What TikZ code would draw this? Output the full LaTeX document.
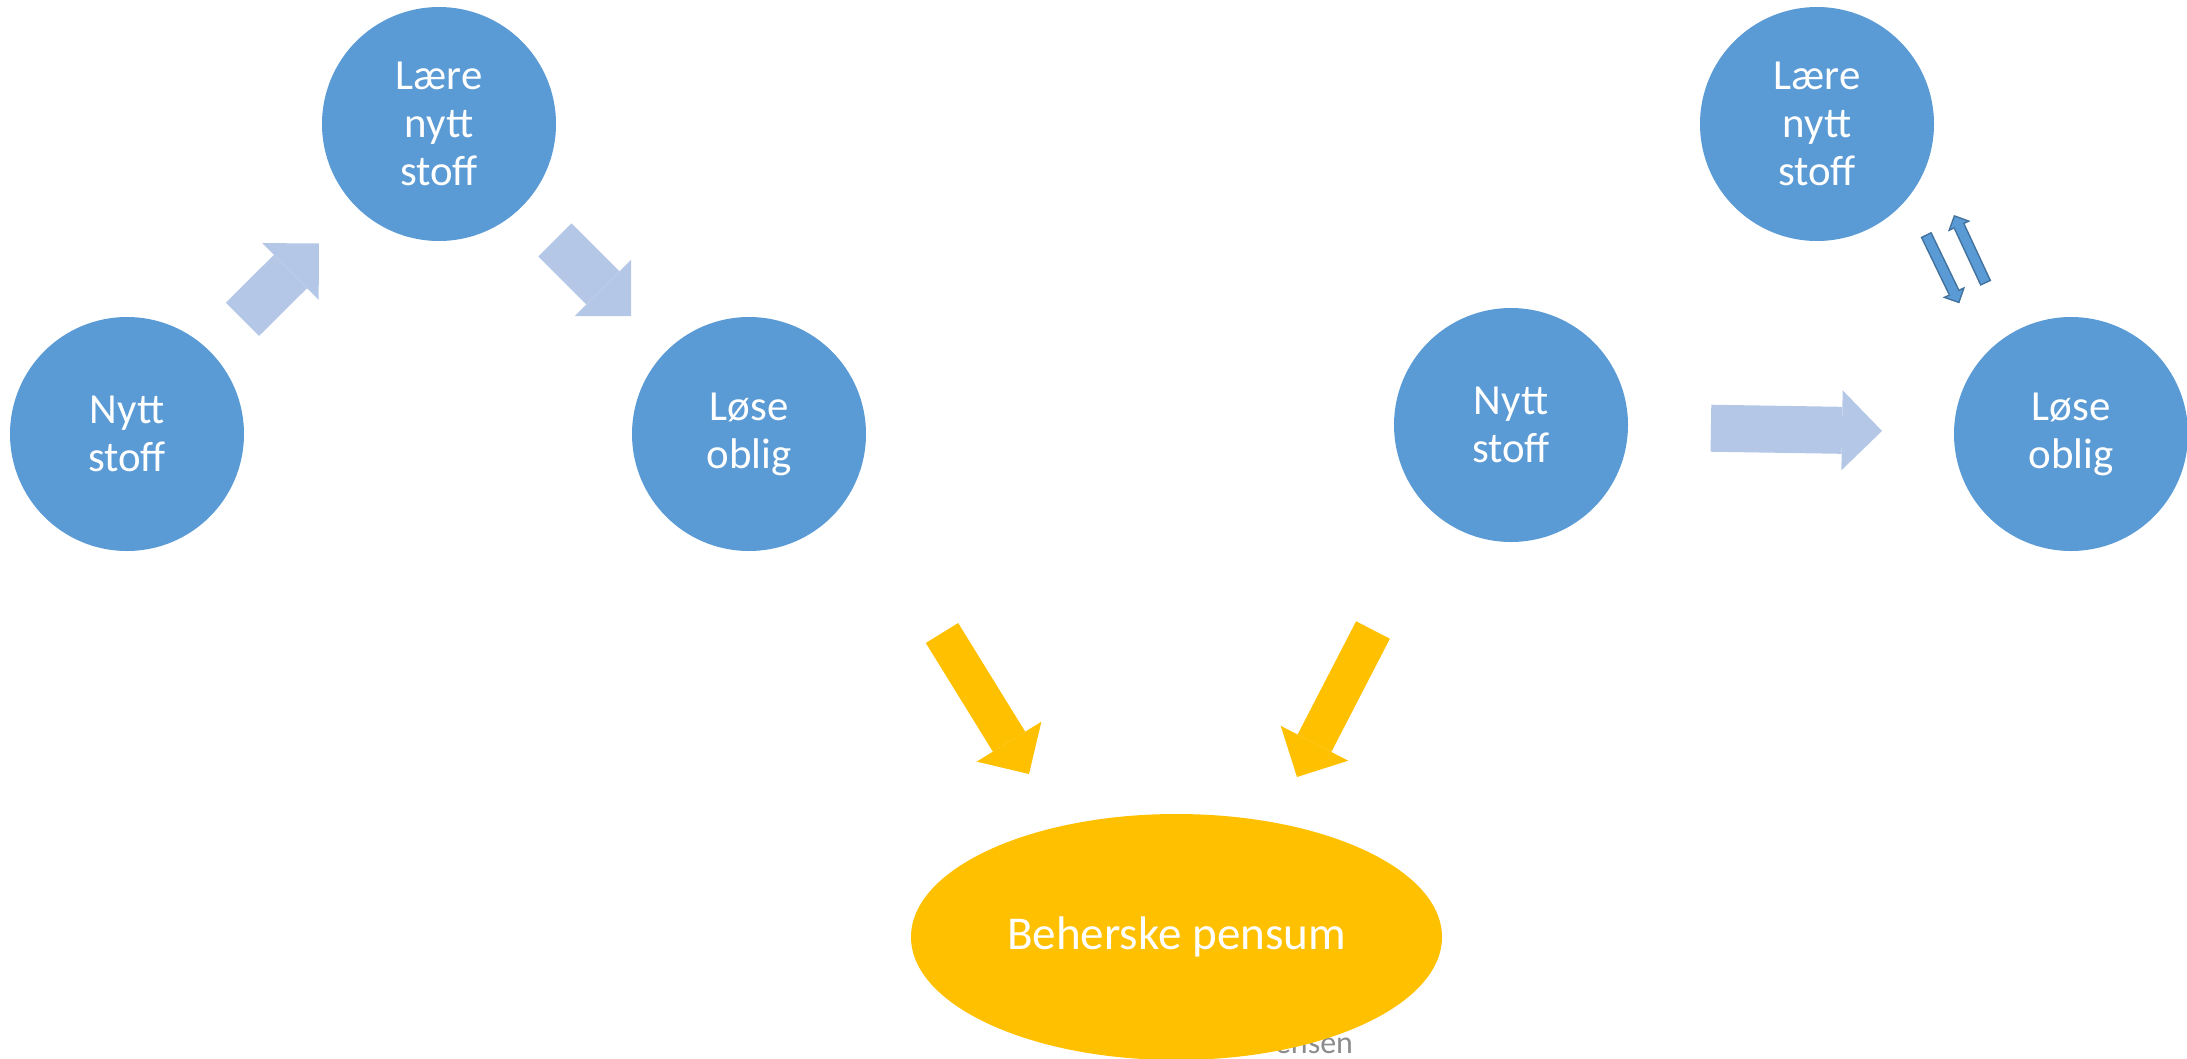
\documentclass[tikz,border=0pt]{standalone}
\usepackage{fontspec}
\setmainfont{Carlito}
\usetikzlibrary{arrows.meta,calc,shapes.geometric}
\definecolor{sirkelblaa}{HTML}{5B9BD5}
\definecolor{lyseblaa}{HTML}{B4C7E7}
\definecolor{moerkblaa}{HTML}{41719C}
\definecolor{gul}{HTML}{FFC000}
\definecolor{graa}{HTML}{8C8C8C}
\tikzset{
  sirkel/.style={circle, fill=sirkelblaa, text=white, minimum size=2.34cm, inner sep=0pt,
    align=center, font=\fontsize{12.2}{13.7}\selectfont},
  lyspil/.style={lyseblaa, line width=0.47cm, -{Triangle[length=0.4cm, width=0.8cm, line width=0pt]}},
  gulpil/.style={gul, line width=0.38cm, -{Triangle[length=0.38cm, width=0.76cm, line width=0pt]}},
  smaapil/.style={moerkblaa, line width=0.12cm, -{Triangle[length=0.125cm, width=0.25cm, line width=0pt]}},
  smaapilfyll/.style={sirkelblaa, line width=0.09cm, shorten <=0.015cm, shorten >=0.021cm,
    -{Triangle[length=0.089cm, width=0.178cm, line width=0pt]}},
}
\begin{document}
\begin{tikzpicture}
    \useasboundingbox (0,0) rectangle (21.87,-10.59);
    % venstre syklus
    \node[sirkel] (nytt1) at (1.27,-4.34) {Nytt\\stoff};
    \node[sirkel] (laere1) at (4.39,-1.24) {Lære\\nytt\\stoff};
    \node[sirkel] (loese1) at (7.49,-4.34) {Løse\\oblig};
    \draw[lyspil] ($(nytt1)!0.37!(laere1)$) -- ($(nytt1)!0.615!(laere1)$);
    \draw[lyspil] ($(laere1)!0.374!(loese1)$) -- ($(laere1)!0.62!(loese1)$);
    % hoyre syklus
    \node[sirkel] (nytt2) at (15.11,-4.25) {Nytt\\stoff};
    \node[sirkel] (laere2) at (18.17,-1.24) {Lære\\nytt\\stoff};
    \node[sirkel] (loese2) at (20.71,-4.34) {Løse\\oblig};
    \draw[lyspil] ($(nytt2)!0.357!(loese2)$) -- ($(nytt2)!0.6625!(loese2)$);
    \coordinate (ned1) at (19.26,-2.345);
    \coordinate (ned2) at (19.593,-3.033);
    \coordinate (opp1) at (19.858,-2.833);
    \coordinate (opp2) at (19.54,-2.15);
    \draw[smaapil] (ned1) -- (ned2);
    \draw[smaapilfyll] (ned1) -- (ned2);
    \draw[smaapil] (opp1) -- (opp2);
    \draw[smaapilfyll] (opp1) -- (opp2);
    % mot pensum
    \node[graa, anchor=base, font=\fontsize{9.1}{11}\selectfont] (navn) at (13.14,-10.53) {ensen};
    \node[ellipse, fill=gul, text=white, minimum width=5.31cm, minimum height=2.46cm,
      font=\fontsize{13.4}{16}\selectfont] (pensum) at (11.765,-9.37) {Beherske pensum};
    \coordinate (gul1a) at (9.42,-6.33);
    \coordinate (gul1b) at (10.29,-7.74);
    \coordinate (gul2a) at (13.73,-6.30);
    \coordinate (gul2b) at (12.97,-7.77);
    \draw[gulpil] (gul1a) -- (gul1b);
    \draw[gulpil] (gul2a) -- (gul2b);
\end{tikzpicture}
\end{document}
